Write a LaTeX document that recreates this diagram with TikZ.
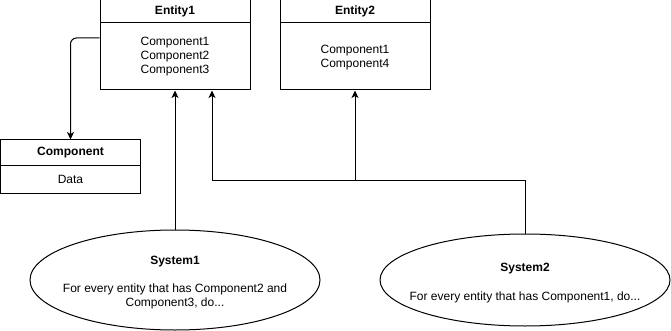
\documentclass[tikz,border=0pt]{standalone}
\usepackage{fontspec}
\setmainfont{Liberation Sans}
\usetikzlibrary{positioning,arrows.meta,shapes.geometric}

\begin{document}
\begin{tikzpicture}[x=1pt,y=-1pt,font=\fontsize{12}{14}\selectfont,line width=1pt,
  head/.style={draw,minimum width=#1,minimum height=23pt,inner sep=0pt,font=\fontsize{12}{14}\selectfont\bfseries},
  head/.default=150pt,
  body/.style={draw,minimum width=150pt,minimum height=67pt,inner sep=0pt,align=center},
  sys/.style={draw,ellipse,minimum width=290pt,minimum height=#1,inner sep=0pt},
  arr/.style={-{Stealth[length=7.5pt,width=7pt,inset=2pt]}}]
\useasboundingbox (0,0) rectangle (671,331);
% entities
\node[head] (e1h) at (175,11.5) {Entity1};
\node[body,below=-1pt of e1h] (e1) {Component1\\Component2\\Component3};
\node[head] (e2h) at (355,11.5) {Entity2};
\node[body,below=-1pt of e2h,label={[align=center,yshift=-1pt]center:Component1\\Component4}] (e2) {};
% component
\node[head=140pt,minimum height=26pt] (ch) at (70.5,153) {Component};
\node[draw,minimum width=140pt,minimum height=27pt,inner sep=0pt,below=-1pt of ch] (cb) {Data};
% systems
\node[sys=100pt,label={[align=center,yshift=-3pt]center:\textbf{System1}\\[14pt]For every entity that has Component2 and\\Component3, do...}] (s1) at (175,280) {};
\node[sys=92pt,label={[align=center,yshift=-3pt]center:\textbf{System2}\\[15pt]For every entity that has Component1, do...}] (s2) at (525,280) {};
\coordinate (e1in) at ([xshift=37pt]e1.south);
\coordinate (j) at (355,180);
\draw[arr,rounded corners=6pt] ([yshift=18.5pt]e1.west) -| (ch.north);
\draw[arr] (s1.north) -- (e1.south);
\draw[arr] (s2.north) |- (e1in |- j) -- (e1in);
\draw[arr] (j) -- (e2.south);
\end{tikzpicture}
\end{document}
